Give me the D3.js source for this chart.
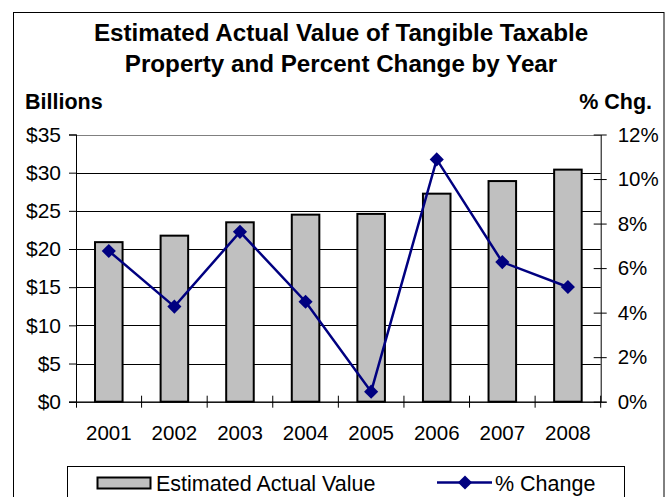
<!DOCTYPE html>
<html><head><meta charset="utf-8">
<script src="https://cdn.jsdelivr.net/npm/d3@7"></script>
<style>
html,body{margin:0;padding:0;background:#fff;}
text{font-family:"Liberation Sans",Arial,sans-serif;fill:#000;}
</style></head>
<body>
<svg id="c" width="668" height="497"></svg>
<script>
const years = ["2001","2002","2003","2004","2005","2006","2007","2008"];
const values = [20.9, 21.75, 23.5, 24.5, 24.6, 27.25, 28.9, 30.4];
const pctChange = [6.77, 4.27, 7.63, 4.49, 0.45, 10.88, 6.27, 5.15];
const leftTicks = [0,5,10,15,20,25,30,35];
const rightTicks = [0,2,4,6,8,10,12];
const titleLines = ["Estimated Actual Value of Tangible Taxable","Property and Percent Change by Year"];
const seriesNames = ["Estimated Actual Value","% Change"];

const svg = d3.select("#c");
const L = 76, R = 600.7, T = 134.5, B = 401.7;
const navy = "#000080";

// outer border
svg.append("rect").attr("x",13.5).attr("y",12.5).attr("width",650.5).attr("height",500)
  .attr("fill","none").attr("stroke","#000").attr("stroke-width",1);

const y0 = d3.scaleLinear().domain([0,35]).range([B,T]);
const y1 = d3.scaleLinear().domain([0,12]).range([B,T]);
const xb = d3.scaleBand().domain(years).range([L,R]).paddingInner(0.58).paddingOuter(0.29);
const xs = d3.scaleBand().domain(years).range([L,R]).padding(0);

// gridlines
svg.append("g").selectAll("line").data(leftTicks.filter(d=>d>0)).join("line")
  .attr("x1",L).attr("x2",R)
  .attr("y1",d=>Math.round(y0(d))+0.5).attr("y2",d=>Math.round(y0(d))+0.5)
  .attr("stroke",d=>d===35?"#808080":"#000").attr("stroke-width",1);

// bars
svg.append("g").selectAll("rect").data(values).join("rect")
  .attr("x",(d,i)=>xb(years[i])).attr("width",xb.bandwidth())
  .attr("y",d=>y0(d)).attr("height",d=>B-y0(d))
  .attr("fill","#C0C0C0").attr("stroke","#000").attr("stroke-width",2);

// left axis
const gl = svg.append("g").attr("transform",`translate(${L},0)`)
  .call(d3.axisLeft(y0).tickValues(leftTicks).tickSize(7).tickPadding(8).tickFormat(d=>"$"+d));
gl.select(".domain").attr("stroke","#000");
gl.selectAll("text").style("font-size","21px");

// right axis
const gr = svg.append("g").attr("transform",`translate(${R},0)`)
  .call(d3.axisRight(y1).tickValues(rightTicks).tickSizeInner(6).tickSizeOuter(0).tickPadding(11).tickFormat(d=>d+"%"));
gr.selectAll(".tick line").attr("x1",-7);
gr.selectAll("text").style("font-size","20.5px");

// bottom axis
const gb = svg.append("g").attr("transform",`translate(0,${B})`)
  .call(d3.axisBottom(xs).tickSize(0).tickPadding(24));
gb.selectAll("text").style("font-size","20.5px");
svg.append("g").selectAll("line").data(years).join("line")
  .attr("x1",d=>xs(d)+xs.step()).attr("x2",d=>xs(d)+xs.step())
  .attr("y1",B-6).attr("y2",B+6).attr("stroke","#000");
svg.append("line").attr("x1",L-7).attr("x2",R+6).attr("y1",B+0.5).attr("y2",B+0.5).attr("stroke","#000");
svg.append("line").attr("x1",L+0.5).attr("x2",L+0.5).attr("y1",T).attr("y2",B+6).attr("stroke","#000");

// line series
const line = d3.line().x((d,i)=>xs(years[i])+xs.bandwidth()/2).y(d=>y1(d));
svg.append("path").datum(pctChange).attr("d",line).attr("fill","none")
  .attr("stroke",navy).attr("stroke-width",2.5);
const diamond = d3.symbol().type(d3.symbolSquare).size(100);
svg.append("g").selectAll("path").data(pctChange).join("path")
  .attr("d",diamond)
  .attr("transform",(d,i)=>`translate(${xs(years[i])+xs.bandwidth()/2},${y1(d)}) rotate(45)`)
  .attr("fill",navy);

// titles
svg.append("g").selectAll("text").data(titleLines).join("text")
  .attr("x",341).attr("y",(d,i)=>41+i*31).attr("text-anchor","middle")
  .style("font-size","24.2px").style("font-weight","bold").text(d=>d);
svg.append("text").attr("x",25).attr("y",109).style("font-size","21.5px").style("font-weight","bold").text("Billions");
svg.append("text").attr("x",652).attr("y",109).attr("text-anchor","end").style("font-size","21.5px").style("font-weight","bold").text("% Chg.");

// legend
svg.append("rect").attr("x",67.5).attr("y",466.5).attr("width",557).attr("height",40)
  .attr("fill","#fff").attr("stroke","#000");
svg.append("rect").attr("x",97.5).attr("y",477.5).attr("width",53).attr("height",11)
  .attr("fill","#C0C0C0").attr("stroke","#000").attr("stroke-width",2);
svg.append("text").attr("x",156).attr("y",490.5).style("font-size","21.5px").text(seriesNames[0]);
svg.append("line").attr("x1",437).attr("x2",492).attr("y1",482.5).attr("y2",482.5).attr("stroke",navy).attr("stroke-width",2.5);
svg.append("path").attr("d",diamond).attr("transform","translate(465,482.5) rotate(45)").attr("fill",navy);
svg.append("text").attr("x",495).attr("y",490.5).style("font-size","21.5px").text(seriesNames[1]);
</script>
</body></html>
